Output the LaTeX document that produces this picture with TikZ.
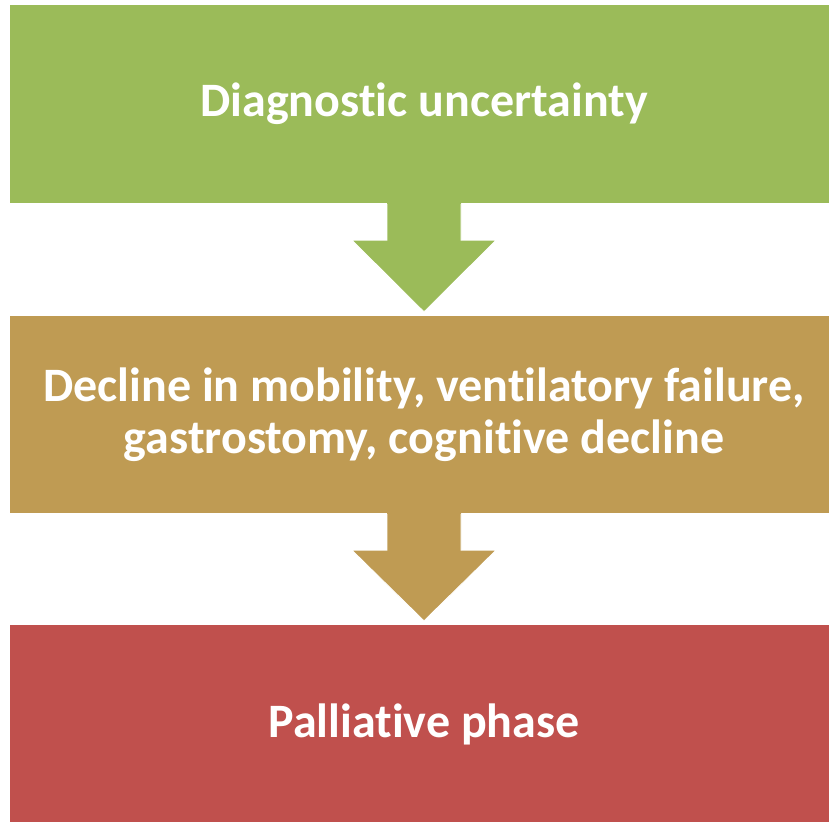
\documentclass[tikz,border=0pt]{standalone}
\usepackage{fontspec}
\setmainfont{Carlito}[Ligatures={NoCommon, NoContextual}]
\usepackage{xcolor}
\usetikzlibrary{calc}

\definecolor{boxgreen}{HTML}{9BBB59}
\definecolor{boxtan}{HTML}{BF9B53}
\definecolor{boxred}{HTML}{C0504D}

\tikzset{
    stagebox/.style={rectangle, minimum width=828pt, inner sep=0pt,
        text=white, align=center, font=\bfseries\fontsize{48}{52}\selectfont}
}

\begin{document}
\begin{tikzpicture}[x=1pt, y=-1pt]
                        \clip (0, 0) rectangle (829, 821);

                        \node[stagebox, fill=boxgreen, minimum height=198pt] (diag) at (424, 104) {Diagnostic uncertainty};
                        \node[stagebox, fill=boxtan, minimum height=197pt] (decl) at (424, 414.5) {Decline in mobility, ventilatory failure,\\gastrostomy, cognitive decline};
                        \node[stagebox, fill=boxred, minimum height=198pt] (pall) at (424, 724) {Palliative phase};

                        % block arrows between the stages
                        \foreach \a/\b/\c in {diag/decl/boxgreen, decl/pall/boxtan} {
                        \filldraw[\c, draw=white, line width=0.8pt]
                        ($(\a.south) + (-37, 0)$) -- ++(0, 37) -- ++(-35, 0)
                        -- ($(\b.north) + (0, -4)$)
                        -- ($(\a.south) + (72, 37)$) -- ++(-35, 0)
                        -- ($(\a.south) + (37, 0)$);
                        \fill[\c] ($(\a.south) + (-36.6, 1)$) rectangle ($(\a.south) + (36.6, -1)$);
                        }
                    \end{tikzpicture}
\end{document}
